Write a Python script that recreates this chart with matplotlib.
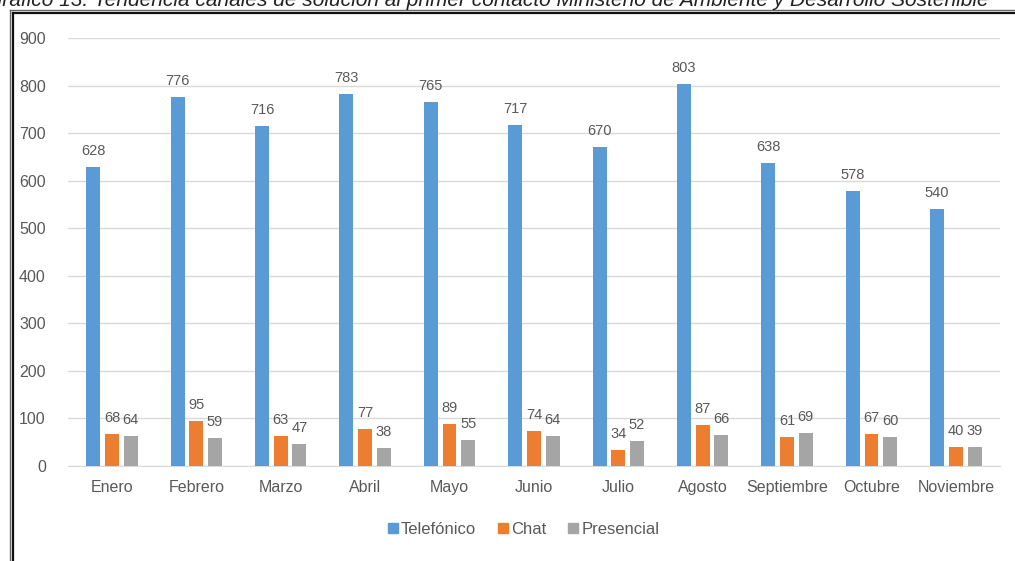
import matplotlib

matplotlib.use("Agg")
import matplotlib.pyplot as plt
from matplotlib.font_manager import findfont, FontProperties
from matplotlib.lines import Line2D
import numpy as np

meses = ["Enero", "Febrero", "Marzo", "Abril", "Mayo", "Junio", "Julio",
         "Agosto", "Septiembre", "Octubre", "Noviembre"]
telefonico = [628, 776, 716, 783, 765, 717, 670, 803, 638, 578, 540]
chat = [68, 95, 63, 77, 89, 74, 34, 87, 61, 67, 40]
presencial = [64, 59, 47, 38, 55, 64, 52, 66, 69, 60, 39]

series = [("Telefónico", telefonico, "#5B9BD5"),
          ("Chat", chat, "#ED7D31"),
          ("Presencial", presencial, "#A5A5A5")]

narrow = "Liberation Sans Narrow"
try:
    findfont(FontProperties(family=narrow), fallback_to_default=False)
    font = narrow
except Exception:
    font = "Liberation Sans"
plt.rcParams["font.family"] = [font, "DejaVu Sans"]
text_color = "#595959"

fig = plt.figure(figsize=(10.15, 5.61), dpi=100)

# title line, its upper half runs past the top edge
fig.text(-0.014, 0.999, "Gráfico 13. Tendencia canales de solución al primer contacto Ministerio de Ambiente y Desarrollo Sostenible",
         fontsize=15, style="italic", family="Liberation Sans", ha="left", va="center", color="#222222")

# double frame around the chart
for x0, y0, lw, c in [(0.0095, 0.983, 1.0, "#666666"), (0.0125, 0.977, 1.6, "#111111")]:
    fig.add_artist(Line2D([x0, x0], [-0.01, y0], transform=fig.transFigure, color=c, lw=lw))
    fig.add_artist(Line2D([x0, 1.01], [y0, y0], transform=fig.transFigure, color=c, lw=lw))

ax = fig.add_axes([0.067, 0.1693, 0.918, 0.7627])
x = np.arange(len(meses))
width = 0.165
step = 0.222
for i, (name, vals, color) in enumerate(series):
    pos = x + (i - 1) * step
    ax.bar(pos, vals, width=width, color=color, label=name, zorder=3)
    for xp, v in zip(pos, vals):
        ax.annotate(str(v), (xp, v), xytext=(0, 6.5), textcoords="offset points",
                    ha="center", va="bottom", fontsize=10.5, color=text_color)

ax.set_xlim(-0.52, len(meses) - 0.48)
ax.set_ylim(0, 900)
ax.set_yticks(range(0, 901, 100))
ax.set_xticks(x)
ax.set_xticklabels(meses)
ax.tick_params(length=0, labelsize=11.5, colors=text_color)
ax.tick_params(axis="x", pad=10)
ax.tick_params(axis="y", pad=16)
ax.grid(axis="y", color="#D9D9D9", lw=1.0, zorder=0)
for s in ["top", "right", "left"]:
    ax.spines[s].set_visible(False)
ax.spines["bottom"].set_color("#D9D9D9")

handles = [Line2D([], [], marker="s", ls="", markersize=7, color=c) for _, _, c in series]
fig.legend(handles, [n for n, _, _ in series], loc="center", bbox_to_anchor=(0.515, 0.057),
           ncol=3, frameon=False, fontsize=12, labelcolor=text_color,
           handletextpad=0.1, columnspacing=1.2, handlelength=0.8)

fig.savefig("out.png", dpi=100)
